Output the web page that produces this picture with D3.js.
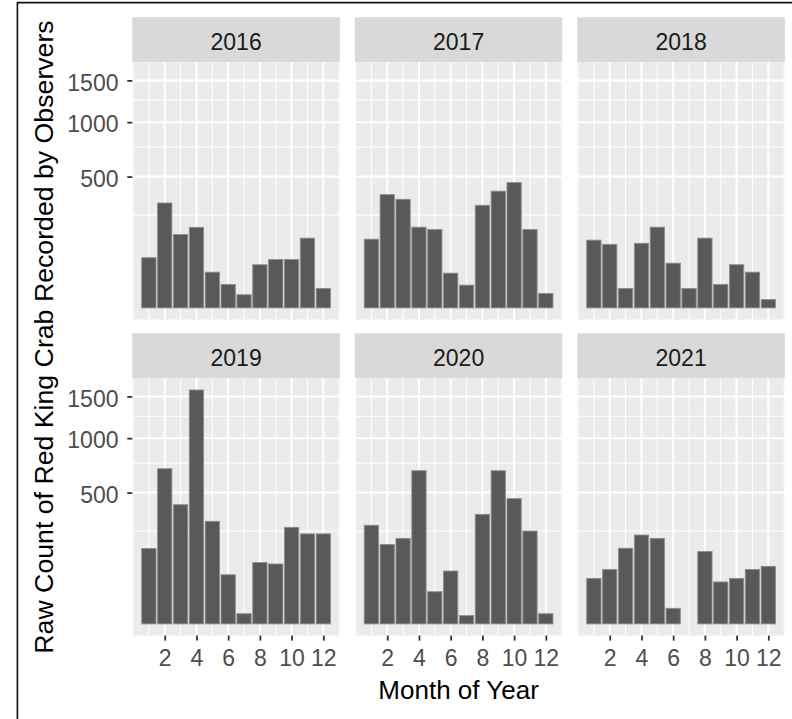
<!DOCTYPE html>
<html>
<head>
<meta charset="utf-8">
<script src="https://cdn.jsdelivr.net/npm/d3@7"></script>
<style>
  body { margin: 0; background: #fff; }
  svg { display: block; font-family: "Liberation Sans", Arial, sans-serif; }
</style>
</head>
<body>
<svg id="chart"></svg>
<script>
// Red king crab observer counts, one bar per month, one panel per year
const years = [2016, 2017, 2018, 2019, 2020, 2021]
const months = [1, 2, 3, 4, 5, 6, 7, 8, 9, 10, 11, 12]

const counts2016 = [73, 319, 156, 188, 37, 16, 5, 54, 68, 68, 141, 11]
const counts2017 = [137, 372, 342, 189, 178, 35, 15, 305, 395, 455, 178, 6]
const counts2018 = [133, 117, 11, 121, 189, 58, 11, 141, 16, 54, 37, 2]
const counts2019 = [165, 698, 412, 1586, 305, 70, 3, 109, 104, 270, 235, 235]
const counts2020 = [282, 183, 212, 680, 30, 81, 2, 348, 680, 455, 250, 3]
const counts2021 = [60, 86, 166, 229, 212, 7, null, 152, 51, 60, 86, 96]

const yBreaks = [500, 1000, 1500]
const yMinorBreaks = [250, 750, 1250]
const xBreaks = [2, 4, 6, 8, 10, 12]
const xMinorBreaks = [0, 1, 3, 5, 7, 9, 11, 13]

const yTitle = "Raw Count of Red King Crab Recorded by Observers"
const xTitle = "Month of Year"

const countsByYear = [counts2016, counts2017, counts2018, counts2019, counts2020, counts2021]

const facets = years.map((year, i) => ({
  year,
  col: i % 3,
  row: Math.floor(i / 3),
  data: months
    .map((m, j) => ({ month: m, count: countsByYear[i][j] }))
    .filter(d => d.count !== null)
}))

const width = 792
const height = 719

// facet layout (ggplot facet_wrap, 3 columns)
const panelLeft = 132.3
const panelW = 207.6
const gapX = 14.9
const rowTop = [17.3, 333.3]
const stripH = 45
const panelH = 257.3

const barWidth = 0.9

const svg = d3.select("#chart")
  .attr("width", width)
  .attr("height", height)
  .attr("viewBox", [0, 0, width, height])

svg.append("rect")
  .attr("width", width)
  .attr("height", height)
  .attr("fill", "#fff")

// x: continuous month, 5% expansion around the bar extents
const xLo = d3.min(months) - barWidth / 2
const xHi = d3.max(months) + barWidth / 2
const xPad = (xHi - xLo) * 0.05
const x = d3.scaleLinear()
  .domain([xLo - xPad, xHi + xPad])
  .range([0, panelW])

// y: square-root scale, 5% expansion in transformed space (d3 sqrt is sign-symmetric)
const sMax = Math.sqrt(d3.max(countsByYear.flat()))
const sPad = sMax * 0.05
const y = d3.scaleSqrt()
  .domain([-(sPad * sPad), (sMax + sPad) ** 2])
  .range([panelH, 0])

const panels = svg.selectAll("g.facet")
  .data(facets)
  .join("g")
  .attr("class", "facet")
  .attr("transform", d => `translate(${panelLeft + d.col * (panelW + gapX)},${rowTop[d.row]})`)

// strip
panels.append("rect")
  .attr("width", panelW)
  .attr("height", stripH)
  .attr("fill", "#D9D9D9")

panels.append("text")
  .attr("x", panelW / 2)
  .attr("y", 32.7)
  .attr("text-anchor", "middle")
  .attr("font-size", 23)
  .attr("fill", "#1A1A1A")
  .text(d => d.year)

const plot = panels.append("g")
  .attr("transform", `translate(0,${stripH})`)

plot.append("rect")
  .attr("width", panelW)
  .attr("height", panelH)
  .attr("fill", "#EBEBEB")

// minor grid
plot.selectAll("line.ygrid-minor")
  .data(yMinorBreaks)
  .join("line")
  .attr("class", "ygrid-minor")
  .attr("x1", 0).attr("x2", panelW)
  .attr("y1", d => y(d)).attr("y2", d => y(d))
  .attr("stroke", "#fff")
  .attr("stroke-width", 1)

plot.selectAll("line.xgrid-minor")
  .data(xMinorBreaks)
  .join("line")
  .attr("class", "xgrid-minor")
  .attr("x1", d => x(d)).attr("x2", d => x(d))
  .attr("y1", 0).attr("y2", panelH)
  .attr("stroke", "#fff")
  .attr("stroke-width", 1)

// major grid
plot.selectAll("line.ygrid")
  .data(yBreaks)
  .join("line")
  .attr("class", "ygrid")
  .attr("x1", 0).attr("x2", panelW)
  .attr("y1", d => y(d)).attr("y2", d => y(d))
  .attr("stroke", "#fff")
  .attr("stroke-width", 2)

plot.selectAll("line.xgrid")
  .data(xBreaks)
  .join("line")
  .attr("class", "xgrid")
  .attr("x1", d => x(d)).attr("x2", d => x(d))
  .attr("y1", 0).attr("y2", panelH)
  .attr("stroke", "#fff")
  .attr("stroke-width", 2)

// bars
plot.selectAll("rect.bar")
  .data(d => d.data)
  .join("rect")
  .attr("class", "bar")
  .attr("x", d => x(d.month - barWidth / 2))
  .attr("width", d => x(d.month + barWidth / 2) - x(d.month - barWidth / 2))
  .attr("y", d => y(d.count))
  .attr("height", d => y(0) - y(d.count))
  .attr("fill", "#595959")
  .attr("stroke", "#8E8E8E")
  .attr("stroke-width", 0.9)

const styleAxis = g => {
  g.select(".domain").remove()
  g.selectAll(".tick line").attr("stroke", "#333333").attr("stroke-width", 1.8)
  g.selectAll(".tick text")
    .attr("fill", "#4D4D4D")
    .attr("font-size", 23)
    .attr("font-family", "Liberation Sans, Arial, sans-serif")
}

// y axis on the first column only
plot.filter(d => d.col === 0)
  .append("g")
  .call(d3.axisLeft(y).tickValues(yBreaks).tickSize(5).tickPadding(8.8).tickFormat(d3.format("d")))
  .call(styleAxis)
  .call(g => g.selectAll(".tick text").attr("dy", "0.42em"))

// x axis on the bottom row only
plot.filter(d => d.row === 1)
  .append("g")
  .attr("transform", `translate(0,${panelH})`)
  .call(d3.axisBottom(x).tickValues(xBreaks).tickSize(5).tickPadding(9).tickFormat(d3.format("d")))
  .call(styleAxis)

// axis titles
svg.append("text")
  .attr("transform", "translate(53.3,337) rotate(-90)")
  .attr("text-anchor", "middle")
  .attr("font-size", 26.7)
  .attr("fill", "#000")
  .text(yTitle)

svg.append("text")
  .attr("x", panelLeft + (3 * panelW + 2 * gapX) / 2)
  .attr("y", 699)
  .attr("text-anchor", "middle")
  .attr("font-size", 26)
  .attr("fill", "#000")
  .text(xTitle)

// screenshot frame (top and left edges)
svg.append("line")
  .attr("x1", 17).attr("x2", width)
  .attr("y1", 2.6).attr("y2", 2.6)
  .attr("stroke", "#111").attr("stroke-width", 1.6)

svg.append("line")
  .attr("x1", 17.4).attr("x2", 17.4)
  .attr("y1", 2).attr("y2", height)
  .attr("stroke", "#111").attr("stroke-width", 1.6)
</script>
</body>
</html>
